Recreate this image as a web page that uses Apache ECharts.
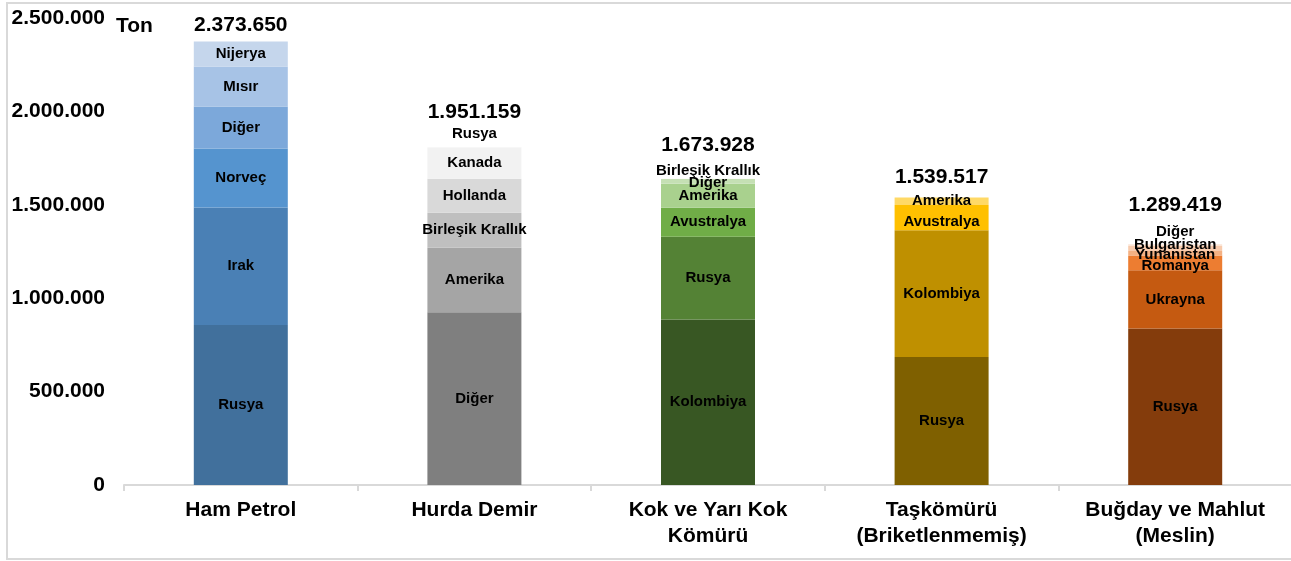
<!DOCTYPE html>
<html lang="tr">
<head>
<meta charset="UTF-8">
<title>Ton</title>
<script src="https://cdn.jsdelivr.net/npm/echarts@6/dist/echarts.min.js"></script>
<style>
  html, body { margin: 0; padding: 0; background: #fff; }
  #chart { width: 1291px; height: 561px; }
</style>
</head>
<body>
<div id="chart"></div>
<script>
// kategoriler ve toplamlar
var categories = ['Ham Petrol', 'Hurda Demir', 'Kok ve Yarı Kok\nKömürü', 'Taşkömürü\n(Briketlenmemiş)', 'Buğday ve Mahlut\n(Meslin)'];
var totals = [2373650, 1951159, 1673928, 1539517, 1289419];

// her çubuğun dilimleri, alttan üste
var hamPetrolNames = ['Rusya', 'Irak', 'Norveç', 'Diğer', 'Mısır', 'Nijerya'];
var hamPetrolValues = [857000, 629000, 315000, 225000, 214000, 133650];

var hurdaDemirNames = ['Diğer', 'Amerika', 'Birleşik Krallık', 'Hollanda', 'Kanada', 'Rusya'];
var hurdaDemirValues = [925000, 345000, 188000, 182000, 168000, 143159];

var kokNames = ['Kolombiya', 'Rusya', 'Avustralya', 'Amerika', 'Diğer', 'Birleşik Krallık'];
var kokValues = [886000, 443000, 155000, 129000, 27000, 33928];

var taskomuruNames = ['Rusya', 'Kolombiya', 'Avustralya', 'Amerika'];
var taskomuruValues = [685000, 679000, 135000, 40517];

var bugdayNames = ['Rusya', 'Ukrayna', 'Romanya', 'Yunanistan', 'Bulgaristan', 'Diğer'];
var bugdayValues = [838000, 311000, 80000, 24000, 26000, 10419];

// renkler (stil)
var hamPetrolColors = ['#41709c', '#4a80b5', '#5594cf', '#7ca8da', '#a7c3e6', '#c5d6ec'];
var hurdaDemirColors = ['#7f7f7f', '#a5a5a5', '#bfbfbf', '#d9d9d9', '#f2f2f2', '#ffffff'];
var kokColors = ['#385723', '#548235', '#70ad47', '#a9d18e', '#c5e0b4', '#ffffff'];
var taskomuruColors = ['#7f6000', '#bf9000', '#ffc000', '#ffd966'];
var bugdayColors = ['#843c0c', '#c55a11', '#ed7d31', '#f4b183', '#f8cbad', '#fbe5d6'];

var allNames = [hamPetrolNames, hurdaDemirNames, kokNames, taskomuruNames, bugdayNames];
var allValues = [hamPetrolValues, hurdaDemirValues, kokValues, taskomuruValues, bugdayValues];
var allColors = [hamPetrolColors, hurdaDemirColors, kokColors, taskomuruColors, bugdayColors];

// üst üste binen etiketler için küçük kaydırmalar (px)
var labelNudge = { '2-4': 2, '2-5': -5, '3-2': 4, '4-2': 3, '4-3': 2, '4-4': -4, '4-5': -13 };
var totalNudge = [-16, -8, -27, -20, -39];

var FONT = 'Arial, "Liberation Sans", sans-serif';

function fmt(v) {
    return String(v).replace(/\B(?=(\d{3})+(?!\d))/g, '.');
}

var series = [];
for (var lvl = 0; lvl < 6; lvl++) {
    var data = [];
    for (var c = 0; c < categories.length; c++) {
        if (lvl >= allValues[c].length) { data.push('-'); continue; }
        data.push({
            value: allValues[c][lvl],
            itemStyle: { color: allColors[c][lvl] },
            label: {
                formatter: allNames[c][lvl],
                offset: [0, labelNudge[c + '-' + lvl] || 0]
            }
        });
    }
    series.push({
        type: 'bar',
        stack: 'ton',
        barWidth: 94,
        data: data,
        silent: true,
        label: {
            show: true,
            position: 'inside',
            color: '#000',
            fontFamily: FONT,
            fontWeight: 'bold',
            fontSize: 15
        }
    });
}

// toplam etiketleri
series.push({
    type: 'scatter',
    symbolSize: 0,
    silent: true,
    z: 10,
    itemStyle: { opacity: 1, color: 'rgba(0,0,0,0)' },
    data: totals.map(function (t, i) {
        return { value: t, label: { offset: [0, totalNudge[i]] } };
    }),
    label: {
        show: true,
        position: 'inside',
        color: '#000',
        fontFamily: FONT,
        fontWeight: 'bold',
        fontSize: 21,
        formatter: function (p) { return fmt(p.value); }
    }
});

var myChart = echarts.init(document.getElementById('chart'));
myChart.setOption({
    animation: false,
    backgroundColor: '#fff',
    grid: { left: 124, top: 18, width: 1168, height: 467, outerBoundsMode: 'none' },
    xAxis: {
        type: 'category',
        data: categories,
        axisLine: { lineStyle: { color: '#d9d9d9', width: 2 } },
        axisTick: { show: true, length: 6, lineStyle: { color: '#d9d9d9', width: 2 } },
        axisLabel: {
            color: '#000',
            fontFamily: FONT,
            fontWeight: 'bold',
            fontSize: 21,
            lineHeight: 26,
            margin: 12,
            interval: 0
        }
    },
    yAxis: {
        type: 'value',
        min: 0,
        max: 2500000,
        interval: 500000,
        axisLine: { show: false },
        axisTick: { show: false },
        splitLine: { show: false },
        axisLabel: {
            color: '#000',
            fontFamily: FONT,
            fontWeight: 'bold',
            fontSize: 21,
            margin: 19,
            formatter: fmt
        }
    },
    graphic: [
        {
            type: 'rect',
            shape: { x: 7, y: 3, width: 1294, height: 556 },
            style: { fill: 'none', stroke: '#d9d9d9', lineWidth: 2 },
            z: -10, silent: true
        },
        {
            type: 'text',
            x: 116, y: 26,
            style: {
                text: 'Ton',
                fill: '#000',
                font: 'bold 21px ' + FONT,
                verticalAlign: 'middle'
            }
        }
    ],
    series: series
});
</script>
</body>
</html>
